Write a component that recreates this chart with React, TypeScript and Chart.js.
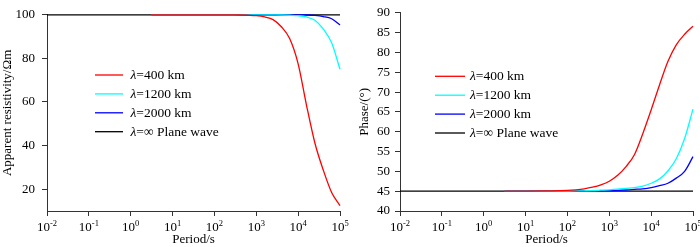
import React, { useEffect, useRef } from 'react';
import { Chart, registerables } from 'chart.js';
Chart.register(...registerables);

const FONT = "'Liberation Serif', 'Times New Roman', serif";

// Periods (s) for the model curves
const periods = [3.16, 10, 31.6, 100, 158, 251, 398, 631, 1000, 1585, 2512, 3981, 6310, 10000, 15849, 25119, 39811, 63096, 100000];
// Plane-wave reference periods
const planePeriods = [0.01, 100000];

// Apparent resistivity (Ωm)
const rhoRed = [100, 100, 100, 100, 100, 99.95, 99.9, 99.8, 99.6, 99.0, 97.8, 94.5, 89, 77.5, 58.5, 41.2, 28.8, 18.5, 12.5];
const rhoCyan = [100, 100, 100, 100, 100, 100, 100, 100, 100, 100, 99.95, 99.9, 99.8, 99.6, 99.0, 97.5, 93.5, 87.2, 75];
const rhoBlue = [100, 100, 100, 100, 100, 100, 100, 100, 100, 100, 100, 100, 99.97, 99.95, 99.9, 99.7, 99.2, 98.2, 95.3];
const rhoPlane = [100, 100];

// Phase (°)
const phRed = [45.0, 45.02, 45.08, 45.2, 45.35, 45.6, 46.0, 46.6, 47.5, 49.0, 51.2, 54.2, 59.5, 65.5, 71.8, 77.7, 81.9, 84.6, 86.6];
const phCyan = [45.0, 45.0, 45.02, 45.05, 45.07, 45.1, 45.15, 45.25, 45.35, 45.5, 45.7, 45.9, 46.3, 47.0, 48.1, 50.1, 53.2, 58.3, 65.7];
const phBlue = [45.0, 45.0, 45.0, 45.02, 45.03, 45.05, 45.07, 45.1, 45.15, 45.22, 45.3, 45.45, 45.6, 45.9, 46.4, 47.0, 48.3, 50.0, 53.7];
const phPlane = [45, 45];

// Ticks
const xTicks = [0.01, 0.1, 1, 10, 100, 1000, 10000, 100000];
const xTickExp = ['-2', '-1', '0', '1', '2', '3', '4', '5'];
const rhoTicks = [20, 40, 60, 80, 100];
const phTicks = [40, 45, 50, 55, 60, 65, 70, 75, 80, 85, 90];

const seriesNames = ['=400 km', '=1200 km', '=2000 km', '=\u221e Plane wave'];
const seriesColors = ['#ff0000', '#00ffff', '#0000ff', '#000000'];

const xLabelPlugin = {
  id: 'xLabels',
  afterDraw(chart: any) {
    const ctx = chart.ctx;
    const sx = chart.scales.x;
    ctx.save();
    ctx.fillStyle = '#000';
    ctx.textBaseline = 'alphabetic';
    ctx.textAlign = 'left';
    xTicks.forEach((v, i) => {
      const px = sx.getPixelForValue(v);
      ctx.font = `13px ${FONT}`;
      const wb = ctx.measureText('10').width;
      ctx.font = `8.5px ${FONT}`;
      const we = ctx.measureText(xTickExp[i]).width;
      const x0 = px - (wb + we) / 2;
      ctx.font = `13px ${FONT}`;
      ctx.fillText('10', x0, 230.5);
      ctx.font = `8.5px ${FONT}`;
      ctx.fillText(xTickExp[i], x0 + wb, 226);
    });
    ctx.restore();
  },
};

const legendPlugin = {
  id: 'customLegend',
  afterDatasetsDraw(chart: any, _args: any, opts: any) {
    const ctx = chart.ctx;
    ctx.save();
    seriesNames.forEach((name, i) => {
      const y = opts.y0 + i * opts.dy;
      ctx.strokeStyle = seriesColors[i];
      ctx.lineWidth = 1.3;
      ctx.beginPath();
      ctx.moveTo(opts.x0, y);
      ctx.lineTo(opts.x1, y);
      ctx.stroke();
      ctx.fillStyle = '#000';
      ctx.textBaseline = 'middle';
      ctx.textAlign = 'left';
      ctx.font = `italic 13.5px ${FONT}`;
      ctx.fillText('\u03bb', opts.tx, y + 0.5);
      const wl = ctx.measureText('\u03bb').width;
      ctx.font = `13.5px ${FONT}`;
      ctx.fillText(name, opts.tx + wl, y + 0.5);
    });
    ctx.restore();
  },
};

function makeDatasets(a: number[], b: number[], c: number[], d: number[]) {
  const sets = [a, b, c];
  const ds: any[] = sets.map((arr, i) => ({
    data: periods.map((p, j) => ({ x: p, y: arr[j] })),
    borderColor: seriesColors[i],
    borderWidth: 1.3,
    pointRadius: 0,
    fill: false,
    cubicInterpolationMode: 'monotone',
    clip: false,
  }));
  ds.push({
    data: planePeriods.map((p, j) => ({ x: p, y: d[j] })),
    borderColor: seriesColors[3],
    borderWidth: 1.3,
    pointRadius: 0,
    fill: false,
    clip: false,
  });
  return ds;
}

function ChartPanel(props: {
  which: 'rho' | 'phase';
}) {
  const ref = useRef<HTMLCanvasElement | null>(null);
  useEffect(() => {
    if (!ref.current) return;
    const isRho = props.which === 'rho';
    const yAxisWidth = isRho ? 47 : 50;
    const rightPad = isRho ? 10 : 7;
    const datasets = isRho
      ? makeDatasets(rhoRed, rhoCyan, rhoBlue, rhoPlane)
      : makeDatasets(phRed, phCyan, phBlue, phPlane);
    const chart = new Chart(ref.current, {
      type: 'line',
      data: { datasets },
      plugins: [xLabelPlugin, legendPlugin],
      options: {
        animation: false,
        responsive: false,
        devicePixelRatio: 1,
        parsing: true,
        layout: { padding: { top: 8, right: rightPad, left: 0, bottom: 0 } },
        plugins: {
          legend: { display: false },
          tooltip: { enabled: false },
          customLegend: isRho
            ? { x0: 95, x1: 123, tx: 130.5, y0: 75, dy: 18.9 }
            : { x0: 85, x1: 115, tx: 120, y0: 76.3, dy: 18.9 },
        } as any,
        scales: {
          x: {
            type: 'logarithmic',
            min: 0.01,
            max: 100000,
            afterBuildTicks: (s: any) => {
              s.ticks = xTicks.map((v) => ({ value: v }));
            },
            afterFit: (s: any) => {
              s.height = 36;
            },
            ticks: { display: false },
            grid: {
              display: true,
              drawOnChartArea: false,
              drawTicks: true,
              tickLength: 5,
              color: '#333',
              lineWidth: 1,
            },
            border: { display: true, color: '#333', width: 1 },
            title: {
              display: true,
              text: 'Period/s',
              color: '#000',
              font: { family: FONT, size: 13 },
              padding: { top: 0, bottom: 0 },
            },
          },
          y: {
            type: 'linear',
            min: isRho ? 10 : 40,
            max: isRho ? 100 : 90,
            afterBuildTicks: (s: any) => {
              s.ticks = (isRho ? rhoTicks : phTicks).map((v) => ({ value: v }));
            },
            afterFit: (s: any) => {
              s.width = yAxisWidth;
            },
            ticks: {
              color: '#000',
              font: { family: FONT, size: 13 },
              padding: isRho ? 7 : 5,
              callback: (v: any) => String(v),
            },
            grid: {
              display: true,
              drawOnChartArea: false,
              drawTicks: true,
              tickLength: 5,
              color: '#333',
              lineWidth: 1,
            },
            border: { display: true, color: '#333', width: 1 },
            title: {
              display: true,
              text: isRho ? 'Apparent resistivity/\u03a9m' : 'Phase/(\u00b0)',
              color: '#000',
              font: { family: FONT, size: 13 },
              padding: { top: isRho ? 0 : 6.6, bottom: 0 },
            },
          },
        },
      } as any,
    });
    return () => chart.destroy();
  }, [props.which]);
  return <canvas ref={ref} width={350} height={247} style={{ display: 'block', width: 350, height: 247 }} />;
}

export default function App() {
  return (
    <div style={{ position: 'absolute', left: 0, top: 0, width: 700, height: 247, display: 'flex', background: '#fff' }}>
      <ChartPanel which="rho" />
      <ChartPanel which="phase" />
    </div>
  );
}
